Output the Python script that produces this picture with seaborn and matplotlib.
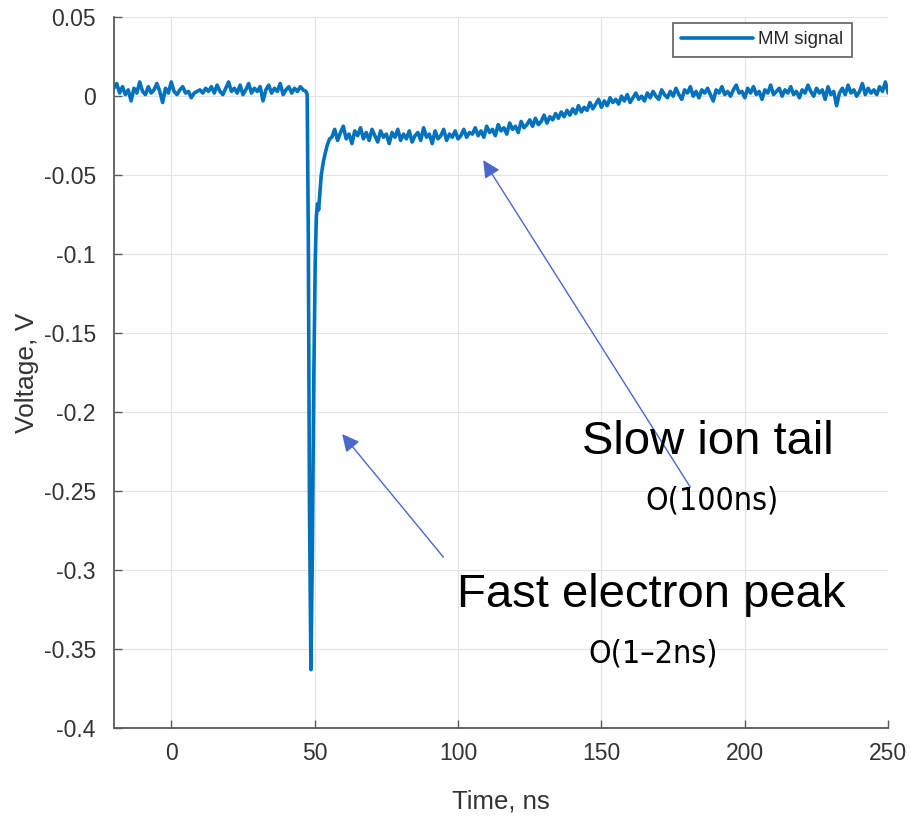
import numpy as np
import pandas as pd
import seaborn as sns
import matplotlib
matplotlib.use('Agg')
import matplotlib.pyplot as plt

# signal (mV), baseline before the pulse, t = -20..47 ns
t_pre = list(range(-20, 48))
v_pre = [5, 8, 2, 6, 1, 4, -3, 5, 2, 9, 3, 1, 6, 2, 4, 8, 3, -4, 5, 2,
         9, 3, 1, 4, 6, 2, 3, -1, 2, 3, 4, 2, 5, 3, 6, 2, 7, 3, 1, 5,
         9, 3, 5, 2, 7, 1, 4, 8, 2, 5, 3, 6, -3, 4, 7, 2, 5, 3, 8, 1,
         4, 6, 2, 5, 3, 6, 4, 3]

# fast electron peak
t_peak = [47.4, 47.8, 48.2, 48.7, 49.2, 49.7, 50.2, 50.6, 51.0, 51.4,
          51.8, 52.3, 53.0, 53.7, 54.4, 55.2]
v_peak = [1, -90, -260, -363, -290, -180, -105, -76, -68, -72,
          -62, -50, -42, -36, -31, -27]

# ion tail and recovery, t = 56..250 ns
t_tail = list(range(56, 251))
v_tail = [-26, -21, -28, -23, -19, -27, -24, -30, -22, -25,
          -20, -27, -23, -28, -21, -25, -29, -22, -26, -24,
          -30, -23, -26, -21, -28, -24, -27, -22, -29, -25,
          -23, -28, -20, -26, -24, -30, -22, -27, -25, -21,
          -28, -24, -26, -22, -27, -25, -21, -26, -23, -24,
          -20, -25, -22, -26, -19, -23, -21, -25, -18, -22,
          -20, -24, -17, -21, -19, -23, -16, -20, -18, -15,
          -19, -14, -18, -16, -12, -17, -13, -15, -11, -14,
          -10, -13, -9, -12, -8, -11, -6, -10, -7, -9,
          -4, -8, -5, -2, -7, -3, -6, -1, -4, -2,
          -5, 0, -3, 1, -4, -1, 2, -2, 0, -3,
          2, -1, 3, 0, -2, 4, 1, -1, 3, 0,
          5, 1, -2, 4, 2, 6, 0, 3, -1, 4,
          2, 5, 1, -3, 4, 2, 6, 1, 3, 0,
          4, 7, 2, 3, -1, 5, 2, 6, 1, 3,
          -2, 4, 2, 7, 1, 3, 5, 0, 4, 2,
          6, 1, 3, -1, 4, 2, 7, 3, 0, 5,
          2, 4, -2, 6, 1, 3, -6, 2, 5, 1,
          7, 2, 4, 0, 3, 8, 1, 5, 2, 4,
          1, 6, 3, 9, 2]

x_ticks = [0, 50, 100, 150, 200, 250]
y_ticks = [0.05, 0, -0.05, -0.1, -0.15, -0.2, -0.25, -0.3, -0.35, -0.4]
y_ticklabels = ['0.05', '0', '-0.05', '-0.1', '-0.15', '-0.2', '-0.25', '-0.3', '-0.35', '-0.4']

df = pd.DataFrame({
    'Time': t_pre + t_peak + t_tail,
    'Voltage': np.array(v_pre + v_peak + v_tail) / 1000.0,
})
df['series'] = 'MM signal'

sns.set_style('whitegrid', {'grid.color': '#e3e3e3', 'axes.edgecolor': '#5a5a5a'})
plt.rcParams['font.family'] = ['Liberation Sans', 'DejaVu Sans']

fig = plt.figure(figsize=(9.11, 8.19), dpi=100)
ax = fig.add_axes([0.125, 0.111, 0.85, 0.868])

sns.lineplot(data=df, x='Time', y='Voltage', hue='series', palette=['#0072BD'],
             estimator=None, linewidth=2.6, ax=ax)

ax.set_xlim(-20, 250)
ax.set_ylim(-0.4, 0.05)
ax.set_xticks(x_ticks)
ax.set_yticks(y_ticks)
ax.set_yticklabels(y_ticklabels)
ax.tick_params(direction='in', length=6, width=1, colors='#5a5a5a', labelcolor='#333333',
               labelsize=16.5, top=False, right=False, left=True, bottom=True)
ax.tick_params(axis='y', pad=13)
ax.tick_params(axis='x', pad=10)
for s in ['top', 'right']:
    ax.spines[s].set_visible(False)
for s in ['left', 'bottom']:
    ax.spines[s].set_linewidth(1.3)

ax.set_xlabel('Time, ns', fontsize=18.5, color='#333333', labelpad=18)
ax.set_ylabel('Voltage, V', fontsize=19, color='#333333')
ax.yaxis.set_label_coords(-0.097, 0.5)

leg = ax.legend(loc='upper right', bbox_to_anchor=(0.953, 0.992), borderaxespad=0,
                fontsize=13.5, frameon=True, fancybox=False, handlelength=3.8,
                borderpad=0.45, handletextpad=0.3)
leg.get_frame().set_edgecolor('#6a6a6a')
leg.get_frame().set_linewidth(1.3)
leg.get_frame().set_alpha(1)

arrow_kw = dict(arrowstyle='-|>', color='#4a68cc', lw=1.0, mutation_scale=26,
                shrinkA=0, shrinkB=0)
ax.annotate('', xy=(108.8, -0.0405), xytext=(181.0, -0.2475), arrowprops=arrow_kw)
ax.annotate('', xy=(59.6, -0.2139), xytext=(94.9, -0.2918), arrowprops=arrow_kw)

ax.text(187, -0.219, 'Slow ion tail', fontsize=34, color='black', ha='center', va='center')
ax.text(188.7, -0.2565, 'O(100ns)', fontsize=23, color='black', ha='center', va='center',
        family=['DejaVu Sans'], fontstretch='condensed', fontweight='light')
ax.text(167.4, -0.3158, 'Fast electron peak', fontsize=34, color='black', ha='center', va='center')
ax.text(168, -0.353, 'O(1\u20132ns)', fontsize=23, color='black', ha='center', va='center',
        family=['DejaVu Sans'], fontstretch='condensed', fontweight='light')

fig.savefig('out.png', dpi=100)
